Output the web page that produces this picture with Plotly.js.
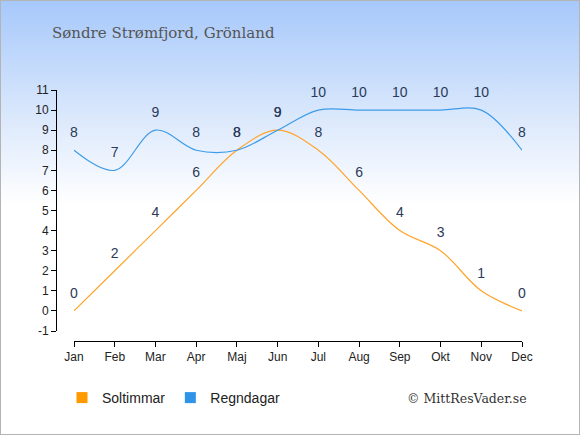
<!DOCTYPE html>
<html>
<head>
<meta charset="utf-8">
<script src="https://cdn.plot.ly/plotly-3.0.1.min.js"></script>
<style>
html,body{margin:0;padding:0;}
#wrap{position:relative;width:580px;height:435px;background:linear-gradient(to bottom,#a6c8fb 0px,#dce9fc 120px,#ffffff 205px,#ffffff 435px);}
#chart{position:absolute;left:0;top:0;width:580px;height:435px;}
#frame{position:absolute;left:0;top:0;width:578px;height:433px;border:1px solid #b4b4b4;pointer-events:none;}
</style>
</head>
<body>
<div id="wrap"><div id="chart"></div><div id="frame"></div></div>
<script>
var months = ["Jan","Feb","Mar","Apr","Maj","Jun","Jul","Aug","Sep","Okt","Nov","Dec"];
var soltimmar = [0,2,4,6,8,9,8,6,4,3,1,0];
var regndagar = [8,7,9,8,8,9,10,10,10,10,10,8];
var yTicks = [-1,0,1,2,3,4,5,6,7,8,9,10,11];
var seriesNames = ["Soltimmar","Regndagar"];
var seriesColors = ["#ffa42b","#3d9be9"];
var legendColors = ["#ff9900","#2f93e8"];

var labelFont = {family:"Liberation Sans, Arial, sans-serif", size:14, color:"#2b3a58"};
var traces = [];
[soltimmar, regndagar].forEach(function(vals, i){
  traces.push({x:months, y:vals, type:"scatter", mode:"lines", showlegend:false,
    line:{color:seriesColors[i], width:1.2, shape:"spline", smoothing:1}, cliponaxis:false});
});
[soltimmar, regndagar].forEach(function(vals, i){
  traces.push({x:months, y:vals, type:"scatter", mode:"markers+text", showlegend:false,
    marker:{size:14, color:"rgba(0,0,0,0)"},
    text:vals.map(String), textposition:"top center", textfont:labelFont, cliponaxis:false});
});
seriesNames.forEach(function(n, i){
  traces.push({x:[null], y:[null], type:"scatter", mode:"markers", name:n, showlegend:true,
    marker:{symbol:"square", size:11, color:legendColors[i]}});
});

var W=580,H=435, L=56, R=58, T=90, B=94;
var pw=W-L-R, ph=H-T-B;
var layout = {
  width:W, height:H,
  paper_bgcolor:"rgba(0,0,0,0)", plot_bgcolor:"rgba(0,0,0,0)",
  margin:{l:L, r:R, t:T, b:B, pad:0},
  title:{text:"Søndre Strømfjord, Grönland", x:52/W, xanchor:"left", y:1-33/H, yanchor:"middle",
         font:{family:"DejaVu Serif, Liberation Serif, serif", size:15, color:"#555555"}},
  xaxis:{type:"category", range:[0,11], domain:[(74-L)/pw,1], anchor:"free", position:0,
         showline:true, linecolor:"#000", linewidth:1, ticks:"outside", ticklen:5, tickcolor:"#000",
         showgrid:false, zeroline:false, fixedrange:true,
         tickfont:{family:"Liberation Sans, Arial, sans-serif", size:12, color:"#222"}},
  yaxis:{range:[-1,11], domain:[(341-331)/ph,1], anchor:"free", position:0,
         tickvals:yTicks, ticktext:yTicks.map(String),
         showline:true, linecolor:"#000", linewidth:1, ticks:"outside", ticklen:5, tickcolor:"#000",
         showgrid:false, zeroline:false, fixedrange:true,
         tickfont:{family:"Liberation Sans, Arial, sans-serif", size:12, color:"#222"}},
  showlegend:true,
  legend:{orientation:"h", x:(62-L)/pw, xanchor:"left", y:-(398-(H-B))/ph, yanchor:"middle",
          font:{family:"Liberation Sans, Arial, sans-serif", size:14, color:"#222"},
          bgcolor:"rgba(0,0,0,0)", itemwidth:30, traceorder:"normal", tracegroupgap:0},
  annotations:[{text:"© MittResVader.se", xref:"paper", yref:"paper",
    x:(529-L)/pw, xanchor:"right", y:-(398-(H-B))/ph, yanchor:"middle", showarrow:false,
    font:{family:"DejaVu Serif, Liberation Serif, serif", size:12.5, color:"#333"}}]
};
Plotly.newPlot("chart", traces, layout, {staticPlot:true, displayModeBar:false});
</script>
</body>
</html>
